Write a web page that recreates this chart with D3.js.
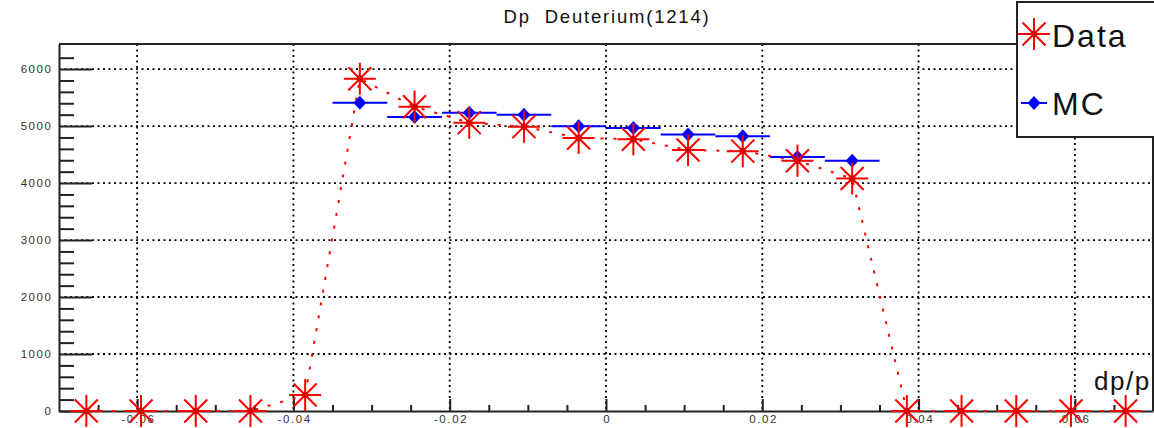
<!DOCTYPE html>
<html lang="en">
<head>
<meta charset="UTF-8">
<title>Dp Deuterium</title>
<script src="https://cdn.jsdelivr.net/npm/d3@7"></script>
<style>
  body { margin: 0; background: #fff; }
  text { font-family: "Liberation Sans", Arial, sans-serif; }
</style>
</head>
<body>
<div id="output"></div>
<script>

// bin centres (dp/p) and contents
var dataX = [-0.0665, -0.0595, -0.0525, -0.0455, -0.0385, -0.0315, -0.0245, -0.0175, -0.0105, -0.0035,
              0.0035,  0.0105,  0.0175,  0.0245,  0.0315,  0.0385,  0.0455,  0.0525,  0.0595,  0.0665];
var dataY = [0, 0, 0, 0, 280, 5830, 5340, 5060, 4990, 4790,
             4770, 4580, 4560, 4390, 4080, 0, 0, 0, 0, 0];

var mcX = [-0.0315, -0.0245, -0.0175, -0.0105, -0.0035, 0.0035, 0.0105, 0.0175, 0.0245, 0.0315];
var mcY = [5410, 5160, 5235, 5200, 4995, 4965, 4850, 4820, 4455, 4390];
var mcHalfWidth = 0.0035;

var xMajor = [-0.06, -0.04, -0.02, 0, 0.02, 0.04, 0.06];
var yMajor = [0, 1000, 2000, 3000, 4000, 5000, 6000];

var w = 1154;
var h = 428;
var padL = 59, padR = 1153, padT = 44, padB = 411;

var svg = d3.select("#output")
    .append("svg")
    .attr("width", w)
    .attr("height", h);

var x = d3.scaleLinear().domain([-0.07, 0.07]).range([padL, padR]);
var y = d3.scaleLinear().domain([0, 6440]).range([padB, padT]);

// grid
var grid = svg.append("g")
    .attr("stroke", "#000")
    .attr("stroke-width", 1.8)
    .attr("stroke-dasharray", "2,3.5");

grid.selectAll("line.h").data(yMajor.slice(1)).enter()
    .append("line")
    .attr("x1", padL).attr("x2", padR)
    .attr("y1", function(d) { return y(d); })
    .attr("y2", function(d) { return y(d); });

grid.selectAll("line.v").data(xMajor).enter()
    .append("line")
    .attr("y1", padT).attr("y2", padB)
    .attr("x1", function(d) { return x(d); })
    .attr("x2", function(d) { return x(d); });

// frame (top / right)
svg.append("path")
    .attr("d", "M" + padL + "," + padT + "H" + padR + "V" + padB)
    .attr("fill", "none")
    .attr("stroke", "#222")
    .attr("stroke-width", 2);

// x axis: minor then major ticks, pointing inward
var xMinor = d3.range(-0.065, 0.0651, 0.005).filter(function(v) {
    return Math.abs(Math.round(v * 1000) % 20) !== 0;
});

svg.append("g")
    .attr("transform", "translate(0," + padB + ")")
    .call(d3.axisBottom(x).tickValues(xMinor).tickSize(-6).tickFormat(""))
    .call(function(g) { g.select(".domain").remove(); });

var xAxis = svg.append("g")
    .attr("transform", "translate(0," + padB + ")")
    .call(d3.axisBottom(x)
        .tickValues(xMajor)
        .tickSize(-12)
        .tickPadding(4)
        .tickSizeOuter(0)
        .tickFormat(function(d) { return d === 0 ? "0" : d.toFixed(2); }));

// y axis
var yMinor = d3.range(200, 6400, 200).filter(function(v) { return v % 1000 !== 0; });

svg.append("g")
    .attr("transform", "translate(" + padL + ",0)")
    .call(d3.axisLeft(y).tickValues(yMinor).tickSize(-15).tickFormat(""))
    .call(function(g) { g.select(".domain").remove(); });

var yAxis = svg.append("g")
    .attr("transform", "translate(" + padL + ",0)")
    .call(d3.axisLeft(y)
        .tickValues(yMajor)
        .tickSize(-33)
        .tickPadding(8)
        .tickSizeOuter(0)
        .tickFormat(d3.format("d")));

[xAxis, yAxis].forEach(function(g) {
    g.select(".domain").attr("stroke", "#222").attr("stroke-width", 2);
    g.selectAll("text")
        .attr("fill", "#333")
        .style("font-size", "11.5px")
        .style("letter-spacing", "1.6px");
});
svg.selectAll(".tick line").attr("stroke", "#222").attr("stroke-width", 2);
xAxis.selectAll("text").attr("dx", "0.8px");
yAxis.selectAll("text").attr("dx", "1.6px");

// data: dotted connecting line
var line = d3.line()
    .x(function(d, i) { return x(dataX[i]); })
    .y(function(d) { return y(d); });

svg.append("path")
    .datum(dataY)
    .attr("d", line)
    .attr("fill", "none")
    .attr("stroke", "#ff0000")
    .attr("stroke-width", 2)
    .attr("stroke-dasharray", "3,10");

// MC: horizontal bin bars + diamonds
var mc = svg.append("g");
mc.selectAll("line").data(mcY).enter()
    .append("line")
    .attr("x1", function(d, i) { return x(mcX[i] - mcHalfWidth); })
    .attr("x2", function(d, i) { return x(mcX[i] + mcHalfWidth); })
    .attr("y1", function(d) { return y(d); })
    .attr("y2", function(d) { return y(d); })
    .attr("stroke", "#0000ff")
    .attr("stroke-width", 2);

var diamond = "M0,-7L6.5,0L0,7L-6.5,0Z";

mc.selectAll("path").data(mcY).enter()
    .append("path")
    .attr("d", diamond)
    .attr("transform", function(d, i) { return "translate(" + x(mcX[i]) + "," + y(d) + ")"; })
    .attr("fill", "#0000ff");

// star marker (plus + cross + centre dot)
function star(g) {
    g.append("path")
        .attr("d", "M-16,0H16M0,-16V16M-11.5,-11.5L11.5,11.5M-11.5,11.5L11.5,-11.5")
        .attr("stroke", "#ff0000")
        .attr("stroke-width", 2)
        .attr("fill", "none");
    g.append("circle")
        .attr("r", 3.2)
        .attr("fill", "#e00000");
}

svg.append("g").selectAll("g").data(dataY).enter()
    .append("g")
    .attr("transform", function(d, i) { return "translate(" + x(dataX[i]) + "," + y(d) + ")"; })
    .each(function() { star(d3.select(this)); });

// title
svg.append("text")
    .attr("x", 607)
    .attr("y", 23)
    .attr("text-anchor", "middle")
    .style("font-size", "18.5px")
    .style("letter-spacing", "1.8px")
    .style("white-space", "pre")
    .attr("fill", "#111")
    .text("Dp  Deuterium(1214)");

// axis title
svg.append("text")
    .attr("x", 1094)
    .attr("y", 390)
    .style("font-size", "26px")
    .style("letter-spacing", "1.5px")
    .attr("fill", "#111")
    .text("dp/p");

// legend
var legend = svg.append("g");
legend.append("rect")
    .attr("x", 1017).attr("y", 2)
    .attr("width", 150).attr("height", 135)
    .attr("fill", "#fff")
    .attr("stroke", "#222")
    .attr("stroke-width", 2);

star(legend.append("g").attr("transform", "translate(1034,34)"));

legend.append("line")
    .attr("x1", 1021).attr("x2", 1047)
    .attr("y1", 103).attr("y2", 103)
    .attr("stroke", "#0000ff")
    .attr("stroke-width", 2);
legend.append("path")
    .attr("d", diamond)
    .attr("transform", "translate(1034,103)")
    .attr("fill", "#0000ff");

legend.selectAll("text.lg").data(["Data", "MC"]).enter()
    .append("text")
    .attr("x", 1052)
    .attr("y", function(d, i) { return i === 0 ? 47 : 115; })
    .style("font-size", "32px")
    .style("letter-spacing", "2px")
    .attr("fill", "#111")
    .text(function(d) { return d; });

</script>
</body>
</html>
